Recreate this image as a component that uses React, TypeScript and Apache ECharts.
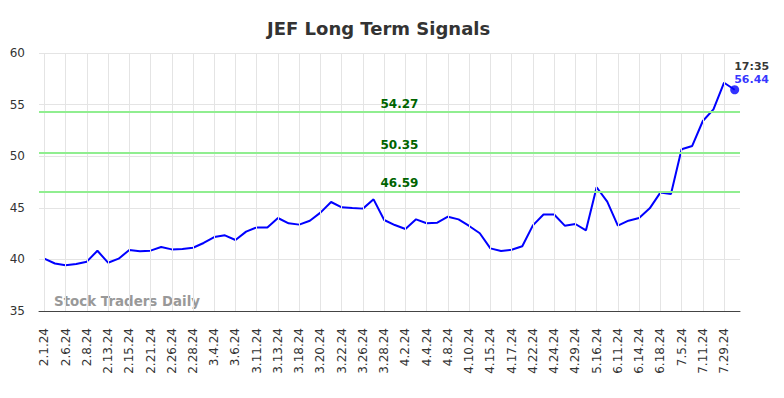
import React, { useEffect, useRef } from "react";
import * as echarts from "echarts";

const dates: string[] = [
  "2.1.24", "2.5.24", "2.6.24", "2.7.24", "2.8.24", "2.9.24", "2.13.24", "2.14.24",
  "2.15.24", "2.20.24", "2.21.24", "2.23.24", "2.26.24", "2.27.24", "2.28.24", "3.1.24",
  "3.4.24", "3.5.24", "3.6.24", "3.8.24", "3.11.24", "3.12.24", "3.13.24", "3.15.24",
  "3.18.24", "3.19.24", "3.20.24", "3.21.24", "3.22.24", "3.25.24", "3.26.24", "3.27.24",
  "3.28.24", "4.1.24", "4.2.24", "4.3.24", "4.4.24", "4.5.24", "4.8.24", "4.9.24",
  "4.10.24", "4.12.24", "4.15.24", "4.16.24", "4.17.24", "4.19.24", "4.22.24", "4.23.24",
  "4.24.24", "4.26.24", "4.29.24", "5.1.24", "5.16.24", "5.30.24", "6.11.24", "6.12.24",
  "6.14.24", "6.17.24", "6.18.24", "7.2.24", "7.5.24", "7.9.24", "7.11.24", "7.18.24",
  "7.29.24", "8.1.24",
];

const prices: number[] = [
  40.07, 39.6, 39.43, 39.55, 39.78, 40.84, 39.68, 40.07,
  40.91, 40.78, 40.85, 41.2, 40.97, 41.0, 41.13, 41.59,
  42.17, 42.33, 41.88, 42.69, 43.1, 43.1, 44.01, 43.5,
  43.37, 43.75, 44.53, 45.56, 45.05, 44.98, 44.92, 45.82,
  43.82, 43.33, 42.95, 43.88, 43.5, 43.56, 44.14, 43.88,
  43.24, 42.53, 41.07, 40.81, 40.94, 41.27, 43.3, 44.35,
  44.35, 43.27, 43.43, 42.82, 46.99, 45.59, 43.27, 43.75,
  44.01, 44.95, 46.47, 46.34, 50.67, 50.99, 53.41, 54.54,
  57.12, 56.44,
];

const signalLevels: number[] = [54.27, 50.35, 46.59];
const lastTime = "17:35";
const titleText = "JEF Long Term Signals";
const watermark = "Stock Traders Daily";

const FONT = "DejaVu Sans";
const GRID_COLOR = "#e4e4e4";

export default function App() {
  const ref = useRef<HTMLDivElement>(null);

  useEffect(() => {
    document.body.style.margin = "0";
    if (!ref.current) return;
    const chart = echarts.init(ref.current, undefined, { renderer: "svg" });
    const lastIdx = prices.length - 1;

    const verticalGrid = dates
      .map((d, i) => ({ d, i }))
      .filter((o) => o.i % 2 === 0)
      .map((o) => ({
        xAxis: o.i,
        lineStyle: { color: GRID_COLOR, width: 1, type: "solid" },
        label: { show: false },
      }));

    const signalLines = signalLevels.map((v) => ({
      yAxis: v,
      lineStyle: { color: "#90EE90", width: 2, type: "solid" },
    }));

    chart.setOption({
      animation: false,
      textStyle: { fontFamily: FONT },
      title: {
        text: titleText,
        left: 262,
        top: 14,
        textStyle: { fontFamily: FONT, fontSize: 18, fontWeight: "bold", color: "#333" },
      },
      grid: { left: 39, right: 44, top: 53, bottom: 87, containLabel: false },
      xAxis: {
        type: "category",
        data: dates,
        boundaryGap: true,
        axisLine: { show: true, lineStyle: { color: "#444", width: 1 } },
        axisTick: { show: false },
        axisLabel: {
          interval: 1,
          rotate: 90,
          margin: 17,
          fontSize: 12,
          color: "#333",
          fontFamily: FONT,
        },
        splitLine: { show: false },
      },
      yAxis: {
        type: "value",
        min: 35,
        max: 60,
        interval: 5,
        axisLine: { show: false },
        axisTick: { show: false },
        axisLabel: { fontSize: 12, color: "#333", margin: 14, fontFamily: FONT },
        splitLine: { show: true, lineStyle: { color: GRID_COLOR, width: 1 } },
      },
      graphic: [
        {
          type: "text",
          left: 54,
          top: 295,
          silent: true,
          style: {
            text: watermark,
            fill: "#999",
            font: `bold 13.4px "${FONT}"`,
          },
        },
      ],
      series: [
        {
          type: "line",
          data: prices,
          showSymbol: false,
          symbol: "none",
          lineStyle: { color: "#0000ff", width: 2 },
          z: 3,
          markLine: {
            silent: true,
            symbol: ["none", "none"],
            label: {
              show: true,
              position: "insideMiddleTop",
              formatter: (p: any) => Number(p.value).toFixed(2),
              color: "#006400",
              fontWeight: "bold",
              fontSize: 12,
              fontFamily: FONT,
              offset: [10, 0],
              distance: 2,
            },
            data: [...verticalGrid, ...signalLines],
          },
        },
        {
          type: "scatter",
          data: [[dates[lastIdx], prices[lastIdx]]],
          symbolSize: 9,
          itemStyle: { color: "#0000ff" },
          z: 4,
          label: {
            show: true,
            position: [4, -25],
            align: "left",
            verticalAlign: "top",
            formatter: () => `{t|${lastTime}}\n{v|${prices[lastIdx].toFixed(2)}}`,
            rich: {
              t: { color: "#000", fontWeight: "bold", fontSize: 11, fontFamily: FONT, lineHeight: 13 },
              v: { color: "#0000ff", fontWeight: "bold", fontSize: 11, fontFamily: FONT, lineHeight: 13 },
            },
          },
        },
      ],
    });
    return () => chart.dispose();
  }, []);

  return <div ref={ref} style={{ width: 784, height: 398 }} />;
}
